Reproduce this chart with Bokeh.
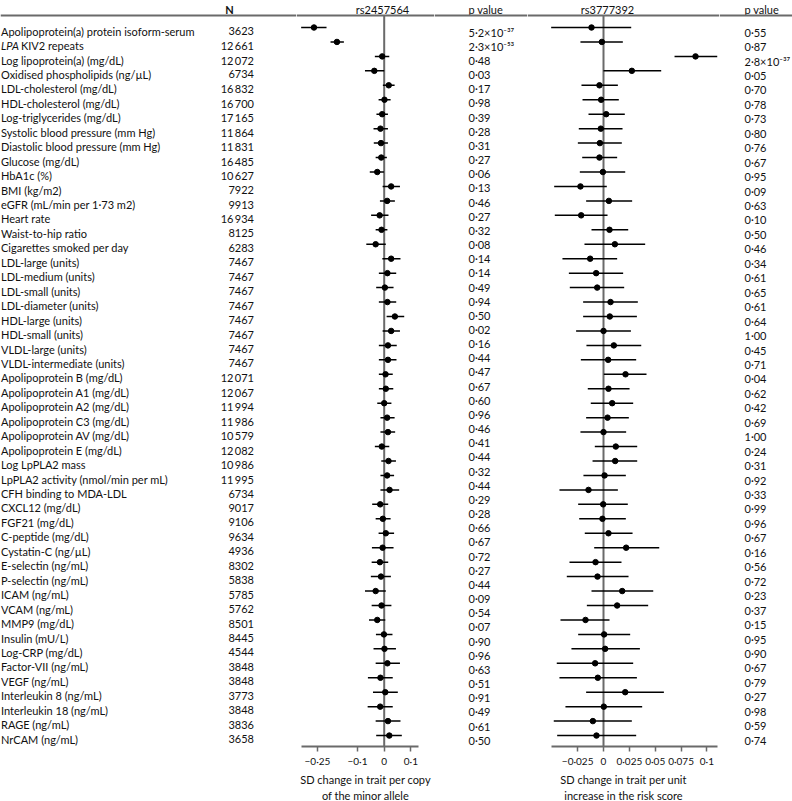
import numpy as np
from bokeh.plotting import figure
from bokeh.models import (Range1d, ColumnDataSource, LinearAxis, FixedTicker, Span,
                          CustomJSTickFormatter)
from bokeh.layouts import row
from bokeh.embed import file_html
from bokeh.resources import INLINE
from bokeh.core.properties import value

# ---------------- data ----------------
labels = [
    "Apolipoprotein(a) protein isoform-serum", "LPA KIV2 repeats", "Log lipoprotein(a) (mg/dL)",
    "Oxidised phospholipids (ng/\u00b5L)", "LDL-cholesterol (mg/dL)", "HDL-cholesterol (mg/dL)",
    "Log-triglycerides (mg/dL)", "Systolic blood pressure (mm Hg)", "Diastolic blood pressure (mm Hg)",
    "Glucose (mg/dL)", "HbA1c (%)", "BMI (kg/m2)", "eGFR (mL/min per 1\u00b773 m2)", "Heart rate",
    "Waist-to-hip ratio", "Cigarettes smoked per day", "LDL-large (units)", "LDL-medium (units)",
    "LDL-small (units)", "LDL-diameter (units)", "HDL-large (units)", "HDL-small (units)",
    "VLDL-large (units)", "VLDL-intermediate (units)", "Apolipoprotein B (mg/dL)",
    "Apolipoprotein A1 (mg/dL)", "Apolipoprotein A2 (mg/dL)", "Apolipoprotein C3 (mg/dL)",
    "Apolipoprotein AV (mg/dL)", "Apolipoprotein E (mg/dL)", "Log LpPLA2 mass",
    "LpPLA2 activity (nmol/min per mL)", "CFH binding to MDA-LDL", "CXCL12 (mg/dL)", "FGF21 (mg/dL)",
    "C-peptide (mg/dL)", "Cystatin-C (ng/\u00b5L)", "E-selectin (ng/mL)", "P-selectin (ng/mL)",
    "ICAM (ng/mL)", "VCAM (ng/mL)", "MMP9 (mg/dL)", "Insulin (mU/L)", "Log-CRP (mg/dL)",
    "Factor-VII (ng/mL)", "VEGF (ng/mL)", "Interleukin 8 (ng/mL)", "Interleukin 18 (ng/mL)",
    "RAGE (ng/mL)", "NrCAM (ng/mL)",
]
n_values = [3623, 12661, 12072, 6734, 16832, 16700, 17165, 11864, 11831, 16485, 10627, 7922, 9913,
            16934, 8125, 6283, 7467, 7467, 7467, 7467, 7467, 7467, 7467, 7467, 12071, 12067, 11994,
            11986, 10579, 12082, 10986, 11995, 6734, 9017, 9106, 9634, 4936, 8302, 5838, 5785, 5762,
            8501, 8445, 4544, 3848, 3848, 3773, 3848, 3836, 3658]

# rs2457564: SD change per copy of the minor allele
est1 = [-0.263, -0.177, -0.0075, -0.037, 0.017, 0.001, -0.0075, -0.014, -0.012, -0.011, -0.026,
        0.026, 0.011, -0.017, -0.010, -0.032, 0.026, 0.012, 0.0025, 0.012, 0.040, 0.026, 0.014,
        0.014, 0.005, 0.006, 0.0, 0.011, 0.014, -0.009, 0.016, 0.011, 0.020, -0.015, -0.005, 0.006,
        -0.006, -0.016, -0.012, -0.032, -0.010, -0.026, -0.001, 0.001, 0.012, -0.014, 0.004,
        -0.015, 0.014, 0.019]
lo1 = [-0.311, -0.201, -0.035, -0.072, -0.005, -0.021, -0.029, -0.040, -0.039, -0.032, -0.054,
       -0.006, -0.016, -0.049, -0.032, -0.067, -0.007, -0.020, -0.030, -0.020, 0.009, -0.006,
       -0.020, -0.020, -0.020, -0.020, -0.026, -0.014, -0.014, -0.035, -0.011, -0.014, -0.014,
       -0.045, -0.032, -0.021, -0.046, -0.047, -0.050, -0.072, -0.047, -0.057, -0.031, -0.040,
       -0.032, -0.061, -0.042, -0.062, -0.032, -0.030]
hi1 = [-0.216, -0.151, 0.019, 0.0, 0.039, 0.024, 0.014, 0.014, 0.014, 0.010, -0.001, 0.059, 0.040,
       0.016, 0.012, 0.006, 0.061, 0.045, 0.035, 0.045, 0.075, 0.059, 0.047, 0.046, 0.032, 0.034,
       0.027, 0.039, 0.041, 0.019, 0.044, 0.037, 0.056, 0.015, 0.024, 0.037, 0.035, 0.015, 0.025,
       0.006, 0.027, 0.004, 0.031, 0.044, 0.059, 0.032, 0.051, 0.032, 0.061, 0.066]
p1 = ["5\u00b72\u00d710\u207b\u00b3\u2077", "2\u00b73\u00d710\u207b\u2075\u00b3",
      "0\u00b748", "0\u00b703", "0\u00b717", "0\u00b798", "0\u00b739", "0\u00b728", "0\u00b731",
      "0\u00b727", "0\u00b706", "0\u00b713", "0\u00b746", "0\u00b727", "0\u00b732", "0\u00b708",
      "0\u00b714", "0\u00b714", "0\u00b749", "0\u00b794", "0\u00b750", "0\u00b702", "0\u00b716",
      "0\u00b744", "0\u00b747", "0\u00b767", "0\u00b760", "0\u00b796", "0\u00b746", "0\u00b741",
      "0\u00b744", "0\u00b732", "0\u00b744", "0\u00b729", "0\u00b728", "0\u00b766", "0\u00b767",
      "0\u00b772", "0\u00b727", "0\u00b744", "0\u00b709", "0\u00b754", "0\u00b707", "0\u00b790",
      "0\u00b796", "0\u00b763", "0\u00b751", "0\u00b791", "0\u00b749", "0\u00b761", "0\u00b750"]

# rs3777392: SD change per unit increase in the risk score
est2 = [-0.0116, -0.0016, 0.089, 0.0274, -0.0039, -0.0023, 0.0026, -0.0026, -0.0035, -0.0039,
        -0.0006, -0.0223, 0.0052, -0.0216, 0.0058, 0.011, -0.0129, -0.0071, -0.0061, 0.0068,
        0.0061, 0.0, 0.010, 0.0045, 0.0213, 0.0048, 0.0084, 0.0039, 0.0, 0.0119, 0.0113, 0.001,
        -0.0145, -0.0003, -0.001, 0.0048, 0.0219, -0.0077, -0.0058, 0.0181, 0.0132, -0.0174,
        0.0006, 0.0016, -0.0081, -0.0055, 0.021, 0.0003, -0.0103, -0.0068]
lo2 = [-0.0506, -0.0223, 0.0687, 0.0, -0.0213, -0.0203, -0.0145, -0.0239, -0.0248, -0.0206,
       -0.0229, -0.0477, -0.0168, -0.0471, -0.0116, -0.0184, -0.0397, -0.0335, -0.0326, -0.0197,
       -0.0197, -0.0265, -0.0165, -0.0219, 0.0003, -0.0152, -0.0123, -0.0168, -0.0223, -0.0084,
       -0.0106, -0.0194, -0.0426, -0.0245, -0.0235, -0.0181, -0.009, -0.0329, -0.0355, -0.0116,
       -0.0161, -0.0416, -0.0245, -0.031, -0.0452, -0.0426, -0.0168, -0.0368, -0.0481, -0.0448]
hi2 = [0.0268, 0.0187, 0.110, 0.0558, 0.0139, 0.0148, 0.0206, 0.0184, 0.0177, 0.0132, 0.0210,
       0.0032, 0.0277, 0.0039, 0.0239, 0.0403, 0.0132, 0.019, 0.0200, 0.0332, 0.0323, 0.0265,
       0.0365, 0.0316, 0.0416, 0.0252, 0.0287, 0.0245, 0.0219, 0.0326, 0.0326, 0.0216, 0.0139,
       0.0235, 0.0216, 0.0281, 0.0539, 0.0174, 0.0242, 0.0481, 0.0432, 0.0058, 0.0258, 0.0352,
       0.0287, 0.0323, 0.0584, 0.0374, 0.0274, 0.0316]
p2 = ["0\u00b755", "0\u00b787", "2\u00b78\u00d710\u207b\u00b3\u2077", "0\u00b705", "0\u00b770",
      "0\u00b778", "0\u00b773", "0\u00b780", "0\u00b776", "0\u00b767", "0\u00b795", "0\u00b709",
      "0\u00b763", "0\u00b710", "0\u00b750", "0\u00b746", "0\u00b734", "0\u00b761", "0\u00b765",
      "0\u00b761", "0\u00b764", "1\u00b700", "0\u00b745", "0\u00b771", "0\u00b704", "0\u00b762",
      "0\u00b742", "0\u00b769", "1\u00b700", "0\u00b724", "0\u00b731", "0\u00b792", "0\u00b733",
      "0\u00b799", "0\u00b796", "0\u00b767", "0\u00b716", "0\u00b756", "0\u00b772", "0\u00b723",
      "0\u00b737", "0\u00b715", "0\u00b795", "0\u00b790", "0\u00b767", "0\u00b779", "0\u00b727",
      "0\u00b798", "0\u00b759", "0\u00b774"]

left_ticks = [-0.25, -0.1, 0, 0.1]
left_tick_labels = ["\u22120\u00b725", "\u22120\u00b71", "0", "0\u00b71"]
right_ticks = [-0.025, 0, 0.025, 0.05, 0.075, 0.1]
right_tick_labels = ["\u22120\u00b7025", "0", "0\u00b7025", "0\u00b705", "0\u00b7075", "0\u00b71"]

head_n = "N"
head_snp1 = "rs2457564"
head_snp2 = "rs3777392"
head_p = "p value"
xlabel1 = "SD change in trait per copy\nof the minor allele"
xlabel2 = "SD change in trait per unit\nincrease in the risk score"

# ---------------- layout (reference pixel geometry) ----------------
FONT = "Lato"
FS = 11.0
TICK_FS = 10.0
TXT = "#111111"
GREY = "#6a6a6a"


def fs(v):
    return f"{v:.2f}px"


ROW0, ROWH = 27.0, 14.45


def yrow(ypx):
    return (ypx - ROW0) / ROWH


Y_TOP = yrow(0)
Y_BOT = yrow(746)
Y_HLINE = yrow(15)
Y_HTEXT = yrow(8.5)
BASE = 3.6 / ROWH  # baseline offset below row centre
FRAME_H = 746

rows = np.arange(len(labels), dtype=float)


def make_fig(w_ref, xr):
    p = figure(frame_width=w_ref, frame_height=FRAME_H,
               x_range=xr, y_range=Range1d(Y_BOT, Y_TOP),
               output_backend="svg", toolbar_location=None,
               x_axis_location=None, y_axis_location=None,
               min_border_left=0, min_border_right=0, min_border_top=0,
               min_border_bottom=55)
    p.outline_line_color = None
    p.grid.grid_line_color = None
    p.add_layout(Span(location=Y_HLINE, dimension="width", line_color=GREY, line_width=2))
    return p


def add_text(p, x, y, t, align="left", bold=False, italic=False, baseline="alphabetic"):
    p.text(x=x, y=y, text=t, text_font=value(FONT), text_font_size=fs(FS),
           text_color=TXT, text_align=align, text_baseline=baseline,
           text_font_style="bold" if bold else ("italic" if italic else "normal"))


def fmt_n(n):
    return f"{n // 1000}\u2009{n % 1000:03d}" if n >= 10000 else str(n)


# ---- A: labels and N ----
A_W = 296
pA = make_fig(A_W, Range1d(0, A_W))
plain_x, plain_t, ital_x, ital_t = [], [], [], []
for lab in labels:
    if lab.startswith("LPA "):
        ital_t.append("LPA")
        ital_x.append(0.5)
        plain_t.append(lab[4:])
        plain_x.append(20.5)
    else:
        plain_t.append(lab)
        plain_x.append(0.5)
ital_rows = [rows[i] + BASE for i, l in enumerate(labels) if l.startswith("LPA ")]
add_text(pA, plain_x, list(rows + BASE), plain_t)
add_text(pA, ital_x, ital_rows, ital_t, italic=True)
add_text(pA, [253.5] * len(n_values), list(rows + BASE), [fmt_n(n) for n in n_values], align="right")
add_text(pA, [229], [Y_HTEXT], [head_n], align="center", bold=True)


def forest(zero_px, ppu, frame_l, frame_r, axis_l, axis_r, est, lo, hi, ticks, tlabels,
           xlabel, head, head_px):
    xr = Range1d((frame_l - zero_px) / ppu, (frame_r - zero_px) / ppu)
    p = make_fig(frame_r - frame_l, xr)
    p.segment(x0=[0], y0=[Y_HLINE], x1=[0], y1=[Y_BOT], line_color=GREY, line_width=2)
    src = ColumnDataSource(dict(y=rows, est=est, lo=lo, hi=hi))
    p.segment(x0="lo", y0="y", x1="hi", y1="y", source=src, line_color="black", line_width=1.5)
    p.scatter("est", "y", source=src, size=5.5, color="black", marker="circle")
    add_text(p, [(head_px - zero_px) / ppu], [Y_HTEXT], [head], align="center")
    ax = LinearAxis(ticker=FixedTicker(ticks=ticks, minor_ticks=[]),
                    bounds=((axis_l - zero_px) / ppu, (axis_r - zero_px) / ppu),
                    axis_label=xlabel)
    ax.formatter = CustomJSTickFormatter(
        args=dict(t=ticks, l=tlabels),
        code="const i = t.findIndex(v => Math.abs(v - tick) < 1e-9); return i >= 0 ? l[i] : String(tick);")
    ax.axis_line_color = GREY
    ax.axis_line_width = 1.8
    ax.major_tick_line_color = GREY
    ax.major_tick_line_width = 1.5
    ax.major_tick_out = 5
    ax.major_tick_in = 0
    ax.minor_tick_line_color = None
    ax.major_label_standoff = 3
    ax.major_label_text_font = FONT
    ax.major_label_text_font_size = fs(TICK_FS)
    ax.major_label_text_color = TXT
    ax.axis_label_text_font = FONT
    ax.axis_label_text_font_size = fs(FS)
    ax.axis_label_text_font_style = "normal"
    ax.axis_label_text_color = TXT
    ax.axis_label_standoff = 3
    ax.axis_label_text_line_height = 1.25
    p.add_layout(ax, "below")
    return p


# ---- B: forest 1 ----
pB = forest(383.7, 267.0, 296, 434, 301, 418, est1, lo1, hi1, left_ticks, left_tick_labels,
            xlabel1, head_snp1, 382)

# ---- C: p values 1 (51 entries, evenly spread over the rows) ----
pC = make_fig(93, Range1d(434, 527))
p1_rows = np.linspace(0, len(labels) - 1, len(p1)) + 0.07
add_text(pC, [468] * len(p1), list(p1_rows + BASE), p1)
add_text(pC, [468], [Y_HTEXT], [head_p])

# ---- D: forest 2 ----
pD = forest(603.0, 1034.0, 527, 719, 551, 716.7, est2, lo2, hi2, right_ticks,
            right_tick_labels, xlabel2, head_snp2, 607)

# ---- E: p values 2 ----
pE = make_fig(73, Range1d(719, 792))
add_text(pE, [744] * len(p2), list(rows + 0.07 + BASE), p2)
add_text(pE, [744], [Y_HTEXT], [head_p])

layout = row(pA, pB, pC, pD, pE, spacing=0)

open("out.html", "w").write(file_html(layout, INLINE))
